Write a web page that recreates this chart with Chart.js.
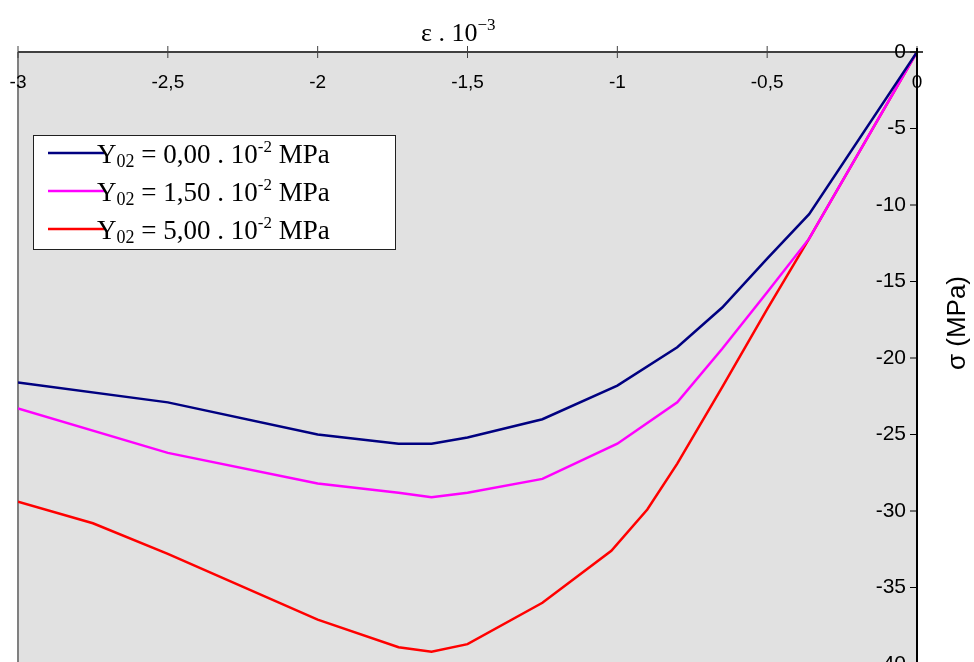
<!DOCTYPE html>
<html>
<head>
<meta charset="utf-8">
<script src="https://cdn.jsdelivr.net/npm/chart.js@4/dist/chart.umd.min.js"></script>
<style>
  html, body { margin: 0; padding: 0; background: #fff; overflow: hidden; }
  #wrap { width: 974px; height: 700px; }
</style>
</head>
<body>
<div id="wrap"><canvas id="chart" width="974" height="700"></canvas></div>
<script>
// strain (x 10^-3) and stress (MPa) for each Y02 value
var epsY000 = [-3, -2.5, -2, -1.73, -1.62, -1.5, -1.25, -1, -0.8, -0.65, -0.5, -0.36, 0];
var sigY000 = [-21.6, -22.9, -25.0, -25.6, -25.6, -25.2, -24.0, -21.8, -19.3, -16.7, -13.5, -10.6, 0];

var epsY150 = [-3, -2.5, -2, -1.73, -1.62, -1.5, -1.25, -1, -0.8, -0.65, -0.5, -0.36, 0];
var sigY150 = [-23.3, -26.2, -28.2, -28.8, -29.1, -28.8, -27.9, -25.6, -22.9, -19.4, -15.7, -12.2, 0];

var epsY500 = [-3, -2.75, -2.5, -2, -1.73, -1.62, -1.5, -1.25, -1.02, -0.9, -0.8, -0.65, -0.5, -0.36, 0];
var sigY500 = [-29.4, -30.8, -32.8, -37.1, -38.9, -39.2, -38.7, -36.0, -32.6, -29.9, -26.9, -21.9, -16.8, -12.2, 0];

var xTicks = [-3, -2.5, -2, -1.5, -1, -0.5, 0];
var xTickLabels = ['-3', '-2,5', '-2', '-1,5', '-1', '-0,5', '0'];
var yTicks = [0, -5, -10, -15, -20, -25, -30, -35, -40];
var yTickLabels = ['0', '-5', '-10', '-15', '-20', '-25', '-30', '-35', '-40'];

var legendValues = ['0,00', '1,50', '5,00'];
var seriesColors = ['#000080', '#ff00ff', '#ff0000'];

var serif = '"Liberation Serif", "Times New Roman", serif';
var sans = '"Liberation Sans", Arial, sans-serif';

function toPoints(xs, ys) {
    var pts = [];
    for (var i = 0; i < xs.length; i++) {
        pts.push({ x: xs[i], y: ys[i] });
    }
    return pts;
}

// draws a list of text runs [text, font, dy] left to right
function drawRuns(ctx, runs, x, y) {
    for (var i = 0; i < runs.length; i++) {
        ctx.font = runs[i][1];
        ctx.fillText(runs[i][0], x, y + runs[i][2]);
        x += ctx.measureText(runs[i][0]).width;
    }
    return x;
}

var axesPlugin = {
    id: 'axesPlugin',
    beforeDraw: function (chart) {
        var ctx = chart.ctx, a = chart.chartArea;
        ctx.save();
        ctx.fillStyle = '#ffffff';
        ctx.fillRect(0, 0, chart.width, chart.height);
        ctx.fillStyle = '#e1e1e1';
        ctx.fillRect(a.left, a.top, a.right - a.left, a.bottom - a.top);
        // left border of plot
        ctx.strokeStyle = '#808080';
        ctx.lineWidth = 2;
        ctx.beginPath();
        ctx.moveTo(a.left, a.top);
        ctx.lineTo(a.left, a.bottom);
        ctx.stroke();
        ctx.restore();
    },
    afterDatasetsDraw: function (chart) {
        var ctx = chart.ctx, a = chart.chartArea;
        var xs = chart.scales.x, ys = chart.scales.y;
        var y0 = ys.getPixelForValue(0);
        var x0 = xs.getPixelForValue(0);
        ctx.save();

        // x axis (at sigma = 0, top)
        ctx.strokeStyle = '#404040';
        ctx.lineWidth = 2;
        ctx.beginPath();
        ctx.moveTo(a.left, y0);
        ctx.lineTo(x0 + 6, y0);
        ctx.stroke();
        ctx.fillStyle = '#000';
        ctx.font = '19px ' + sans;
        ctx.textAlign = 'center';
        ctx.textBaseline = 'middle';
        for (var i = 0; i < xTicks.length; i++) {
            var px = xs.getPixelForValue(xTicks[i]);
            ctx.lineWidth = 1;
            ctx.beginPath();
            ctx.moveTo(px, y0 - 6);
            ctx.lineTo(px, y0 + 6);
            ctx.stroke();
            ctx.fillText(xTickLabels[i], px, y0 + 31);
        }

        // y axis (at eps = 0, right)
        ctx.strokeStyle = '#000';
        ctx.lineWidth = 2;
        ctx.beginPath();
        ctx.moveTo(x0, y0 - 4);
        ctx.lineTo(x0, chart.height);
        ctx.stroke();
        ctx.textAlign = 'right';
        ctx.font = '21px ' + sans;
        for (var j = 0; j < yTicks.length; j++) {
            var py = ys.getPixelForValue(yTicks[j]);
            ctx.lineWidth = 1;
            ctx.beginPath();
            ctx.moveTo(x0 - 7, py);
            ctx.lineTo(x0, py);
            ctx.stroke();
            ctx.fillText(yTickLabels[j], x0 - 11, py);
        }

        // axis titles
        ctx.textAlign = 'left';
        ctx.textBaseline = 'alphabetic';
        drawRuns(ctx, [
            ['\u03b5 . 10', '26px ' + serif, 0],
            ['\u22123', '17px ' + serif, -11]
        ], 421, 41);

        ctx.save();
        ctx.translate(965, 323);
        ctx.rotate(-Math.PI / 2);
        ctx.textAlign = 'center';
        ctx.font = '26px ' + sans;
        ctx.fillText('\u03c3 (MPa)', 0, 0);
        ctx.restore();

        // legend box
        ctx.fillStyle = '#ffffff';
        ctx.fillRect(33, 135, 363, 115);
        ctx.strokeStyle = '#202020';
        ctx.lineWidth = 1;
        ctx.strokeRect(33.5, 135.5, 362, 114);
        var rowY = [153, 191, 229];
        for (var k = 0; k < legendValues.length; k++) {
            ctx.strokeStyle = seriesColors[k];
            ctx.lineWidth = 2.5;
            ctx.beginPath();
            ctx.moveTo(48, rowY[k]);
            ctx.lineTo(104, rowY[k]);
            ctx.stroke();
            ctx.fillStyle = '#000';
            drawRuns(ctx, [
                ['Y', '27px ' + serif, 0],
                ['02', '18px ' + serif, 4],
                [' = ' + legendValues[k] + ' . 10', '27px ' + serif, 0],
                ['-2', '17px ' + serif, -11],
                [' MPa', '27px ' + serif, 0]
            ], 97, rowY[k] + 10);
        }
        ctx.restore();
    }
};

var ctx = document.getElementById('chart').getContext('2d');
var chart = new Chart(ctx, {
    type: 'scatter',
    data: {
        datasets: [
            { label: 'Y02 = 0,00', data: toPoints(epsY000, sigY000), borderColor: seriesColors[0] },
            { label: 'Y02 = 1,50', data: toPoints(epsY150, sigY150), borderColor: seriesColors[1] },
            { label: 'Y02 = 5,00', data: toPoints(epsY500, sigY500), borderColor: seriesColors[2] }
        ].map(function (d) {
            d.showLine = true;
            d.borderWidth = 2.5;
            d.pointRadius = 0;
            d.tension = 0;
            d.fill = false;
            return d;
        })
    },
    options: {
        responsive: false,
        animation: false,
        layout: { padding: { left: 18, right: 57, top: 52, bottom: 36 } },
        plugins: { legend: { display: false }, tooltip: { enabled: false } },
        scales: {
            x: { type: 'linear', min: -3, max: 0, display: false },
            y: { type: 'linear', min: -40, max: 0, display: false }
        }
    },
    plugins: [axesPlugin]
});
</script>
</body>
</html>
